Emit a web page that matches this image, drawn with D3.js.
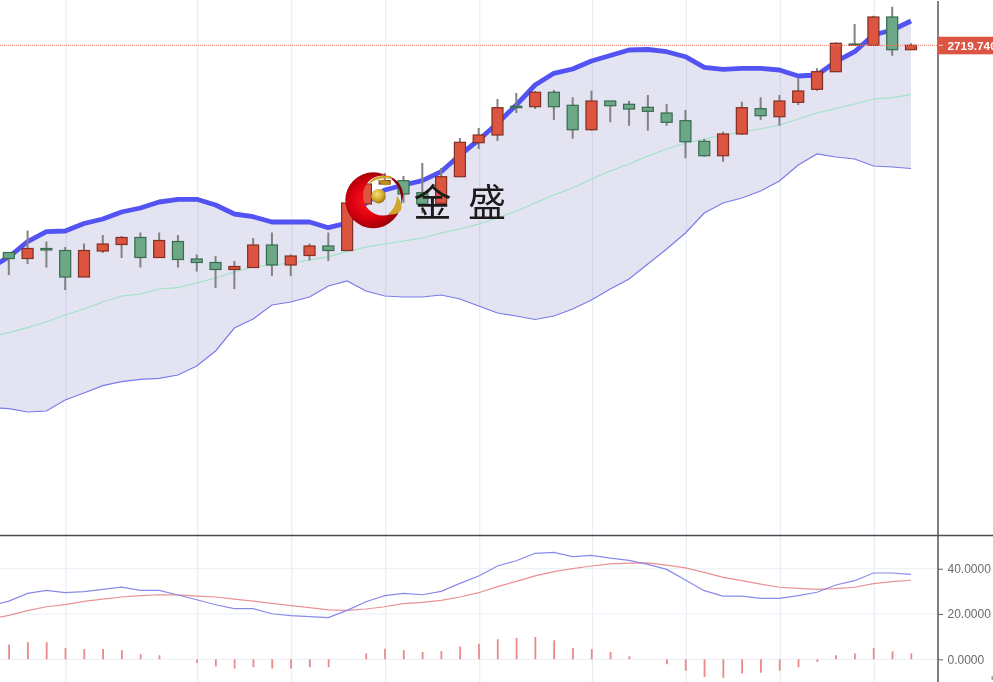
<!DOCTYPE html>
<html lang="zh">
<head>
<meta charset="utf-8">
<title>K线图</title>
<script src="https://cdn.jsdelivr.net/npm/d3@7/dist/d3.min.js"></script>
<style>
html,body{margin:0;padding:0;background:#fff;overflow:hidden}
svg{display:block;filter:blur(.45px)}
text{font-family:"Liberation Sans",Arial,sans-serif}
</style>
</head>
<body>
<svg id="chart" width="993" height="682"></svg>
<script>
// Index -1 is the bar just off the left edge of the picture.
const indices = d3.range(-1, 49);
const opens  = [2613,2615.75,2612.75,2617.75,2616.75,2603.5,2616.5,2619.75,2623.25,2613.25,2621.25,2612.5,2610.75,2607.25,2608.25,2619.5,2609.5,2614.25,2619,2616.75,2640,2650,2651.65,2645.65,2640.35,2653.65,2670.65,2674.5,2688.85,2688.65,2695.85,2689.35,2677.15,2691.5,2689.85,2688.35,2685.5,2681.65,2671.35,2664.15,2675,2687.65,2683.65,2690.85,2697.35,2706.15,2720,2719.35,2733.5,2717.15];
const closes = [2611,2612.75,2617.75,2617,2603.5,2616.75,2620,2623.25,2613.25,2621.75,2612.25,2610.75,2607.25,2608.75,2619.5,2609.5,2614,2619,2616.75,2640.5,2650,2651.65,2645,2640,2653.65,2670.85,2674.5,2688.15,2688.15,2695.85,2688.65,2677.15,2691.5,2689.15,2687.5,2686.35,2680.85,2671.15,2664.15,2675,2688.15,2684.15,2691.5,2696.5,2706.15,2720.35,2719.35,2733.5,2717.15,2719.35];
const highs  = [2617,2616,2626.75,2621.25,2618.5,2620.25,2624.5,2624,2625.75,2625.75,2624.5,2614.75,2614,2611.5,2623,2625.75,2614.75,2620.25,2625.75,2640.5,2653,2655.5,2654,2660.5,2658,2673,2678,2692.5,2695.5,2696.5,2697,2693.35,2696.65,2691.5,2691.65,2694.5,2690,2687,2672.5,2676.15,2691.15,2693.35,2694.5,2703,2707.85,2720.85,2730,2734.15,2738.65,2720.35];
const lows   = [2607,2604.5,2610,2608.25,2597,2603.5,2615.5,2613,2608.25,2613.25,2608.25,2606.25,2598,2597.5,2608.25,2604,2604,2611.75,2611.5,2616.75,2640,2649.5,2640.65,2635.5,2640.35,2653.5,2667.5,2671.5,2685.5,2687.5,2682,2672.65,2676.65,2680.85,2679.15,2676.65,2679.15,2662.85,2663.65,2661.15,2674.5,2682,2679.15,2689.5,2696.65,2706.15,2719.35,2719.35,2714.15,2717.15];
const bollUpper = [2608,2613.5,2621.2,2626.15,2626.5,2630.25,2632.5,2636,2638,2641,2642.35,2642.35,2639.5,2635,2633.65,2631,2631,2631,2628.15,2630.5,2640.5,2647,2649.5,2651.65,2656.15,2664.5,2672,2680.35,2689.5,2699.5,2705.35,2707.5,2711.5,2714.25,2717,2717.25,2716.15,2713.65,2708.35,2707.35,2707.85,2707.85,2707,2704,2704.5,2711.15,2716.15,2724.5,2727,2731.5];
const bollMid = [2573.5,2575.65,2578.15,2581.15,2584.5,2587.5,2591,2594,2595,2597.5,2598.15,2600.5,2603,2606,2608.5,2609.5,2610.5,2612,2613.65,2616.15,2618.5,2620,2621.5,2623,2625.5,2627.5,2630,2633,2636.5,2640.5,2644.5,2648,2652.5,2656.5,2660,2664,2667.5,2670.5,2672.5,2674.5,2676,2677.5,2679.5,2682.5,2685.5,2687.75,2690,2692.5,2693.15,2694.65];
const bollLower = [2538.25,2537.65,2536,2536.5,2542,2545.5,2549.15,2551.15,2552.35,2552.85,2554.5,2559,2566.5,2578,2582.5,2589.5,2591,2593.5,2599,2601.5,2596.5,2594,2593.5,2593.5,2594.5,2592.5,2589,2585.5,2584,2582.25,2584,2587.5,2592,2597.5,2602.5,2610,2617.5,2625.5,2635.5,2640.5,2643,2646.5,2651.5,2659.5,2665,2663.5,2662.5,2659,2658.5,2657.75];
const dif = [23.5,25.7,29.1,30.4,29.4,29.9,30.9,31.9,30.4,30.4,28.4,26.3,24.1,22.4,22.4,20.1,19.3,18.8,18.4,21.6,25.4,28.1,29.1,28.5,30,33.5,36.8,41.2,43.5,46.8,47.2,45.3,45.9,44.7,43.7,41.9,39.7,35,30.3,27.9,27.9,26.9,26.9,28.1,29.6,32.8,34.7,38.1,38.1,37.5];
const dea = [17.8,19.4,21.5,23.2,24.1,25.6,26.6,27.5,28.1,28.5,28.4,27.9,27.5,26.6,25.7,24.7,23.7,22.8,21.8,21.6,22.2,23.2,24.6,25.1,26,27.5,29.4,32.1,34.4,36.8,38.7,40,41.2,42.1,42.5,42.6,41.6,40.4,38.4,36.2,34.7,33.2,31.8,31.3,30.9,31.2,31.8,33.4,34.3,34.9];
const macdHist = [5.7,6.5,7.5,7.5,5,4.6,4.6,4.1,2.2,1.8,0,-1.6,-3.2,-4.1,-3.5,-4.1,-4.1,-3.5,-3.5,0,2.6,4.7,4.1,3.2,3.7,5.6,6.9,8.8,9.4,9.9,8.4,5,4.6,3.2,1.3,0,-2.2,-5,-7.8,-8.2,-6.3,-5.9,-5,-3.5,-1.2,1.8,2.6,5,3.5,2.6];
const gridIndices = [3,10,15,20,25,31,36,41,46];
const macdTicks = [0,20,40];
const lastPrice = 2719.74;
const lastPriceLabel = "2719.740";
const watermark = "金 盛";

const W = 993, H = 682, plotRight = 938, divider = 535.5;
const svg = d3.select("#chart");
const x = d3.scaleLinear().domain([0,48]).range([8.8,911]);
const yP = d3.scaleLinear().domain([2742,2474.25]).range([0,divider]);
const yM = d3.scaleLinear().domain([0,40]).range([659.3,568.7]);

const defs = svg.append("defs");
defs.append("clipPath").attr("id","main").append("rect").attr("width",plotRight).attr("height",divider);
defs.append("clipPath").attr("id","sub").append("rect").attr("y",divider).attr("width",plotRight).attr("height",H-divider);

// grid
svg.append("g").attr("stroke","#e8eef6").attr("stroke-width",1.2)
  .selectAll("line").data(gridIndices).join("line")
  .attr("x1",d=>x(d)+1).attr("x2",d=>x(d)+1).attr("y1",0).attr("y2",H);
svg.append("g").attr("stroke","#ecf2f7").attr("stroke-width",1.2)
  .selectAll("line").data(macdTicks).join("line")
  .attr("x1",0).attr("x2",plotRight).attr("y1",d=>yM(d)).attr("y2",d=>yM(d));

// main pane
const main = svg.append("g").attr("clip-path","url(#main)");
main.append("path").datum(indices)
  .attr("fill","rgb(100,100,180)").attr("fill-opacity",.18)
  .attr("d",d3.area().x(i=>x(i)).y0(i=>yP(bollLower[i+1])).y1(i=>yP(bollUpper[i+1])));
const lineOf = arr => d3.line().x(i=>x(i)).y(i=>yP(arr[i+1]));
main.append("path").datum(indices).attr("fill","none").attr("stroke","#9ee3c4").attr("stroke-width",1.2).attr("d",lineOf(bollMid));
main.append("path").datum(indices).attr("fill","none").attr("stroke","#7b7bea").attr("stroke-width",1.2).attr("d",lineOf(bollLower));
main.append("path").datum(indices).attr("fill","none").attr("stroke","#5353f4").attr("stroke-width",4.8).attr("stroke-linejoin","round").attr("d",lineOf(bollUpper));

const candle = main.selectAll("g.c").data(indices).join("g").attr("class","c");
candle.append("line").attr("x1",i=>x(i)).attr("x2",i=>x(i))
  .attr("y1",i=>yP(highs[i+1])).attr("y2",i=>yP(lows[i+1]))
  .attr("stroke","#828282").attr("stroke-width",2);
candle.append("rect").attr("x",i=>x(i)-5.5).attr("width",11)
  .attr("y",i=>yP(Math.max(opens[i+1],closes[i+1])))
  .attr("height",i=>Math.max(0.8,Math.abs(yP(opens[i+1])-yP(closes[i+1]))))
  .attr("fill",i=>closes[i+1]>opens[i+1]?"#dc5540":"#6ca786")
  .attr("stroke",i=>closes[i+1]>opens[i+1]?"#823024":"#376b50")
  .attr("stroke-width",1.2);

// last price line
const lastY = yP(lastPrice)+.8;
svg.append("line").attr("x1",0).attr("x2",plotRight).attr("y1",lastY).attr("y2",lastY)
  .attr("stroke","#f07a68").attr("stroke-width",1).attr("stroke-dasharray","1 1");

// MACD pane
const sub = svg.append("g").attr("clip-path","url(#sub)");
sub.selectAll("line.h").data(indices).join("line").attr("class","h")
  .attr("x1",i=>x(i)+.3).attr("x2",i=>x(i)+.3)
  .attr("y1",yM(0)).attr("y2",i=>yM(macdHist[i+1]))
  .attr("stroke","#ec8a8a").attr("stroke-width",1.8);
const mLine = arr => d3.line().x(i=>x(i)).y(i=>yM(arr[i+1]));
sub.append("path").datum(indices).attr("fill","none").attr("stroke","#ea9195").attr("stroke-width",1.2).attr("d",mLine(dea));
sub.append("path").datum(indices).attr("fill","none").attr("stroke","#8a8ae8").attr("stroke-width",1.2).attr("d",mLine(dif));

// watermark logo
const red = defs.append("radialGradient").attr("id","logoRed").attr("cx",.42).attr("cy",.5).attr("r",.62);
[[0,"#ff1a1a"],[.5,"#dc0010"],[.8,"#a50008"],[1,"#6e0004"]].forEach(s=>red.append("stop").attr("offset",s[0]).attr("stop-color",s[1]));
const gold = defs.append("radialGradient").attr("id","logoGold").attr("cx",.4).attr("cy",.35).attr("r",.7);
[[0,"#f6e27a"],[.6,"#d2a92a"],[1,"#8f6a12"]].forEach(s=>gold.append("stop").attr("offset",s[0]).attr("stop-color",s[1]));
const logo = svg.append("g");
logo.append("path").attr("fill","url(#logoRed)").attr("fill-rule","evenodd")
  .attr("d",function(){
    const c=d3.path();
    c.moveTo(401.3,200.3); c.arc(373.3,200.3,28,0,2*Math.PI); c.closePath();
    c.moveTo(403,195.5); c.arc(383,195.5,20,0,2*Math.PI); c.closePath();
    return c.toString();
  });
logo.append("path").attr("fill","#cda62a").attr("d","M368,185 Q372,174 391,176 L392,179 Q378,176 368,185Z");
logo.append("path").attr("fill","#b8901f").attr("d","M378,180 Q386,180 391,182 Q390,186 384,185 Q380,184 378,180Z");
logo.append("path").attr("fill","#cda62a").attr("d","M388,214 Q396,208 397,196 Q403,204 401,210 Q396,216 388,214Z");
logo.append("circle").attr("cx",378.5).attr("cy",196.2).attr("r",7.2).attr("fill","url(#logoGold)");
svg.append("text").attr("x",413.5).attr("y",216).text(watermark)
  .style("font-family",'"Noto Sans CJK SC"').style("font-size","38px").style("white-space","pre")
  .style("word-spacing","8px").style("font-weight","400").attr("fill","#1c1a1a");

// frame & axis
svg.append("line").attr("x1",0).attr("x2",W).attr("y1",divider).attr("y2",divider).attr("stroke","#4a4b50").attr("stroke-width",1.6);
const axis = d3.axisRight(yM).tickValues(macdTicks).tickFormat(d3.format(".4f")).tickSize(5).tickPadding(4.5);
const ax = svg.append("g").attr("transform",`translate(${plotRight},0)`).call(axis);
ax.select(".domain").remove();
ax.selectAll("line").attr("stroke","#666");
ax.selectAll("text").attr("fill","#6a6a6a").style("font-size","12px").style("font-family",'"Liberation Sans"');
svg.append("line").attr("x1",plotRight).attr("x2",plotRight).attr("y1",1).attr("y2",H).attr("stroke","#55565b").attr("stroke-width",1.5);

// last price tag
svg.append("rect").attr("x",plotRight).attr("y",lastY-8.6).attr("width",W-plotRight).attr("height",17.6).attr("fill","#db5542");
svg.append("line").attr("x1",plotRight+1).attr("x2",plotRight+5).attr("y1",lastY).attr("y2",lastY).attr("stroke","#f6d8d2");
svg.append("text").attr("x",plotRight+9.5).attr("y",lastY+4.3).text(lastPriceLabel)
  .attr("fill","#fff").style("font-size","11.8px").style("font-weight","bold");
svg.append("rect").attr("x",991.6).attr("y",676).attr("width",1.2).attr("height",4).attr("fill","#888");
</script>
</body>
</html>
